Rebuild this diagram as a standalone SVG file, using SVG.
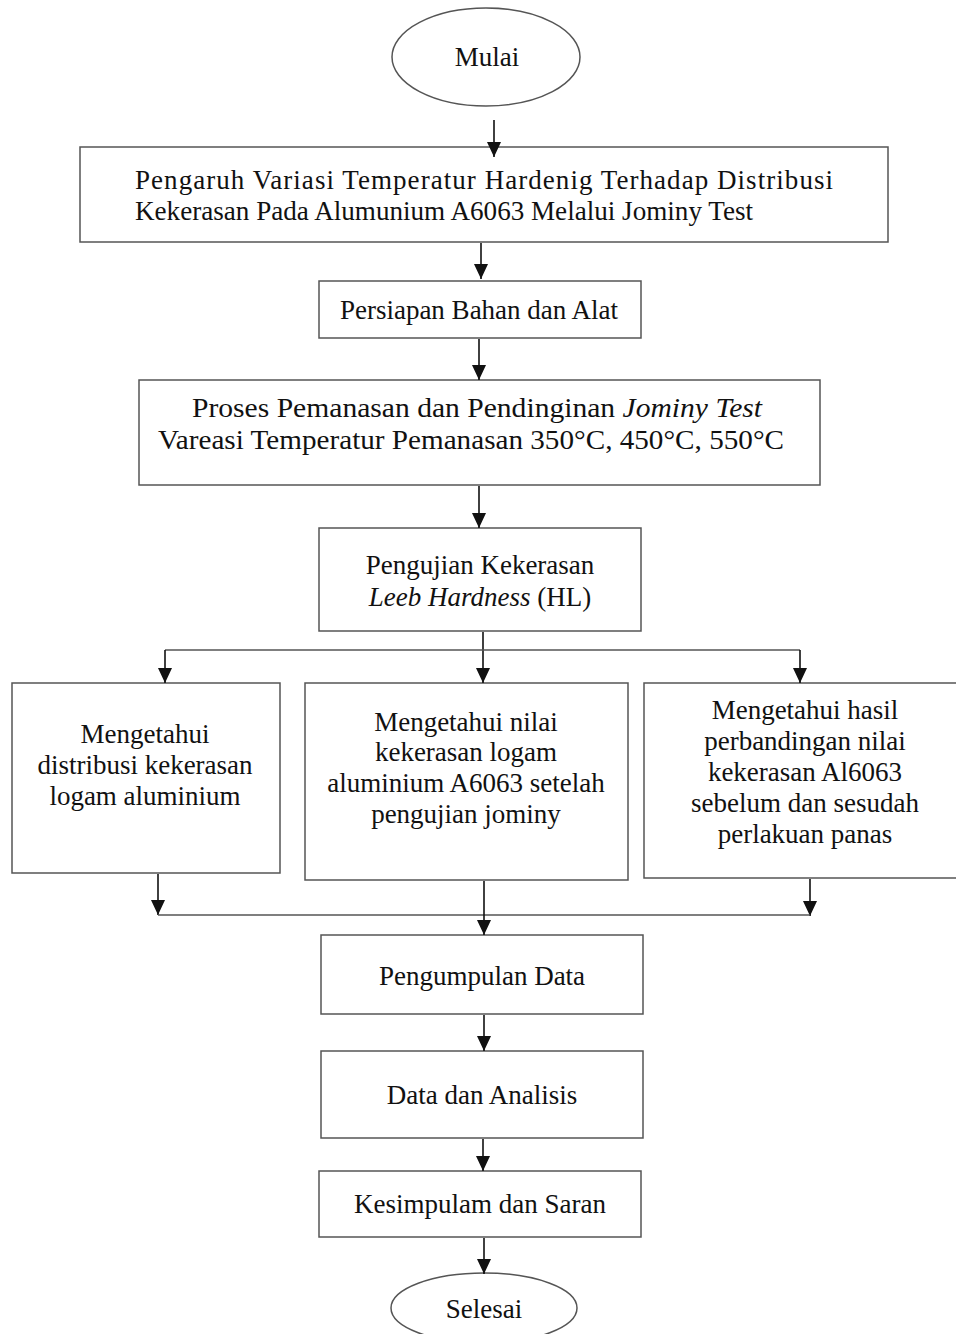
<svg xmlns="http://www.w3.org/2000/svg" width="956" height="1334" viewBox="0 0 956 1334">
<style>
.box{fill:#fff;stroke:#555;stroke-width:1.5}
.t{font-family:"Liberation Serif","Times New Roman",serif;font-size:27px;fill:#111;text-anchor:middle}
.tl{font-family:"Liberation Serif","Times New Roman",serif;font-size:27px;fill:#111}
.c{fill:none;stroke:#111;stroke-width:1.6}
.h{fill:none;stroke:#555;stroke-width:1.5}
</style>
<defs>
<marker id="arr" markerUnits="userSpaceOnUse" markerWidth="16" markerHeight="14" refX="15" refY="7" orient="auto" viewBox="0 0 16 14">
<path d="M0,0 L15,7 L0,14 Z" fill="#111"/>
</marker>
</defs>
<rect width="956" height="1334" fill="#fff"/>
<g id="mulai">
<ellipse class="box" cx="486" cy="57" rx="94" ry="49"/>
<text class="t" x="487" y="66">Mulai</text>
</g>
<g id="judul">
<rect class="box" x="80" y="147" width="808" height="95"/>
<text class="tl" x="135" y="189" textLength="698" lengthAdjust="spacing">Pengaruh Variasi Temperatur Hardenig Terhadap Distribusi</text>
<text class="tl" x="135" y="220" textLength="618" lengthAdjust="spacingAndGlyphs">Kekerasan Pada Alumunium A6063 Melalui Jominy Test</text>
</g>
<g id="persiapan">
<rect class="box" x="319" y="281" width="322" height="57"/>
<text class="t" x="479" y="319">Persiapan Bahan dan Alat</text>
</g>
<g id="proses">
<rect class="box" x="139" y="380" width="681" height="105"/>
<text class="t" x="477" y="417" style="font-size:28px" textLength="570" lengthAdjust="spacingAndGlyphs">Proses Pemanasan dan Pendinginan <tspan font-style="italic">Jominy Test</tspan></text>
<text class="t" x="471" y="449" style="font-size:28px" textLength="626" lengthAdjust="spacingAndGlyphs">Vareasi Temperatur Pemanasan 350°C, 450°C, 550°C</text>
</g>
<g id="pengujian">
<rect class="box" x="319" y="528" width="322" height="103"/>
<text class="t" x="480" y="574">Pengujian Kekerasan</text>
<text class="t" x="480" y="606"><tspan font-style="italic">Leeb Hardness</tspan> (HL)</text>
</g>
<g id="tujuan1">
<rect class="box" x="12" y="683" width="268" height="190"/>
<text class="t" x="145" y="743">Mengetahui</text>
<text class="t" x="145" y="774">distribusi kekerasan</text>
<text class="t" x="145" y="805">logam aluminium</text>
</g>
<g id="tujuan2">
<rect class="box" x="305" y="683" width="323" height="197"/>
<text class="t" x="466" y="731">Mengetahui nilai</text>
<text class="t" x="466" y="761">kekerasan logam</text>
<text class="t" x="466" y="792">aluminium A6063 setelah</text>
<text class="t" x="466" y="823">pengujian jominy</text>
</g>
<g id="tujuan3">
<rect class="box" x="644" y="683" width="320" height="195"/>
<text class="t" x="805" y="719">Mengetahui hasil</text>
<text class="t" x="805" y="750">perbandingan nilai</text>
<text class="t" x="805" y="781">kekerasan Al6063</text>
<text class="t" x="805" y="812">sebelum dan sesudah</text>
<text class="t" x="805" y="843">perlakuan panas</text>
</g>
<g id="pengumpulan">
<rect class="box" x="321" y="935" width="322" height="79"/>
<text class="t" x="482" y="985">Pengumpulan Data</text>
</g>
<g id="analisis">
<rect class="box" x="321" y="1051" width="322" height="87"/>
<text class="t" x="482" y="1104">Data dan Analisis</text>
</g>
<g id="kesimpulan">
<rect class="box" x="319" y="1171" width="322" height="66"/>
<text class="t" x="480" y="1213">Kesimpulam dan Saran</text>
</g>
<g id="selesai">
<ellipse class="box" cx="484" cy="1308" rx="93" ry="35"/>
<text class="t" x="484" y="1318">Selesai</text>
</g>
<g id="connectors">
<line class="c" x1="494" y1="120" x2="494" y2="157" marker-end="url(#arr)"/>
<line class="c" x1="481" y1="243" x2="481" y2="279" marker-end="url(#arr)"/>
<line class="c" x1="479" y1="339" x2="479" y2="380" marker-end="url(#arr)"/>
<line class="c" x1="479" y1="486" x2="479" y2="528" marker-end="url(#arr)"/>
<line class="c" x1="483" y1="632" x2="483" y2="683" marker-end="url(#arr)"/>
<line class="h" x1="165" y1="650" x2="800" y2="650"/>
<line class="c" x1="165" y1="650" x2="165" y2="683" marker-end="url(#arr)"/>
<line class="c" x1="800" y1="650" x2="800" y2="683" marker-end="url(#arr)"/>
<line class="c" x1="158" y1="874" x2="158" y2="915" marker-end="url(#arr)"/>
<line class="c" x1="810" y1="879" x2="810" y2="916" marker-end="url(#arr)"/>
<line class="h" x1="158" y1="915" x2="810" y2="915"/>
<line class="c" x1="484" y1="881" x2="484" y2="935" marker-end="url(#arr)"/>
<line class="c" x1="484" y1="1015" x2="484" y2="1051" marker-end="url(#arr)"/>
<line class="c" x1="483" y1="1139" x2="483" y2="1171" marker-end="url(#arr)"/>
<line class="c" x1="484" y1="1238" x2="484" y2="1274" marker-end="url(#arr)"/>
</g>
</svg>
